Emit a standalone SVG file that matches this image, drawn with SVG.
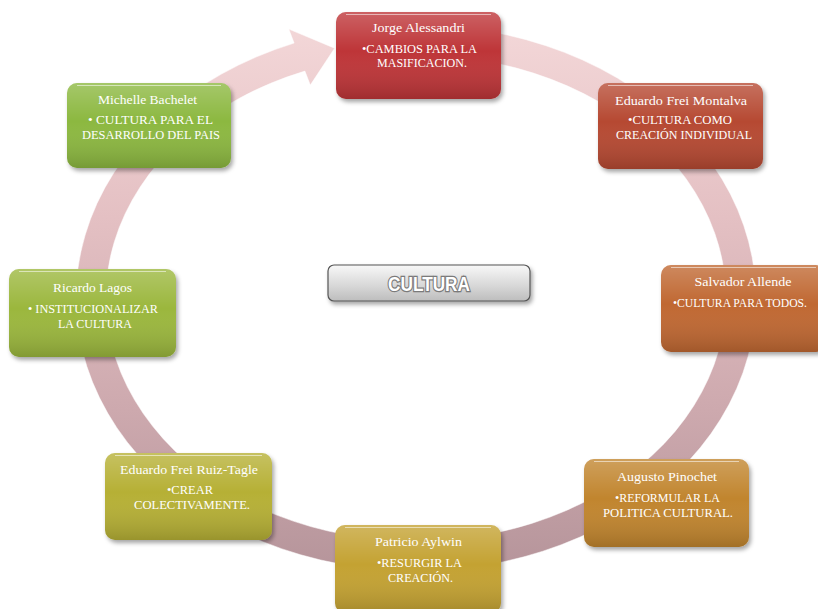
<svg xmlns="http://www.w3.org/2000/svg" width="818" height="609" viewBox="0 0 818 609">
<defs>
<style>
.t{font-family:"Liberation Serif","DejaVu Serif",serif;font-size:13px;fill:#fff;text-anchor:middle}
.shade{fill:url(#shade)}
.hl{fill:none;stroke:#fff;stroke-opacity:.55;stroke-width:1.2}
</style>
<linearGradient id="shade" x1="0" y1="0" x2="0" y2="1">
<stop offset="0" stop-color="#fff" stop-opacity=".22"/>
<stop offset=".45" stop-color="#fff" stop-opacity="0"/>
<stop offset="1" stop-color="#000" stop-opacity=".16"/>
</linearGradient>
<linearGradient id="ringg" gradientUnits="userSpaceOnUse" x1="0" y1="25" x2="0" y2="575">
<stop offset="0" stop-color="#F3D7D8"/>
<stop offset=".35" stop-color="#E4C0C3"/>
<stop offset=".7" stop-color="#CDA9AE"/>
<stop offset="1" stop-color="#B5949A"/>
</linearGradient>
<linearGradient id="cult" x1="0" y1="0" x2="0" y2="1">
<stop offset="0" stop-color="#F8F8F8"/>
<stop offset=".6" stop-color="#D6D6D6"/>
<stop offset="1" stop-color="#BDBDBD"/>
</linearGradient>
<filter id="sh" x="-10%" y="-10%" width="125%" height="130%">
<feDropShadow dx="2" dy="3" stdDeviation="2" flood-color="#000" flood-opacity=".35"/>
</filter>
</defs>
<rect width="818" height="609" fill="#fff"/>

<g id="connectors">
<path d="M445.6 26 A340 273 0 1 1 294.1 43.1 L288.8 29.1 L334.6 48.2 L310.3 85.1 L304.9 71.1 A310 243 0 1 0 443 55.9 Z" fill="url(#ringg)" stroke="#fff" stroke-opacity=".5" stroke-width="1"/>
</g>

<g id="center">
<rect x="328" y="265" width="202" height="36" rx="6" fill="url(#cult)" stroke="#555" stroke-width="1.2" filter="url(#sh)"/>
<text x="429" y="291" font-family="Liberation Sans, Arial, sans-serif" font-weight="bold" font-size="20" fill="#fff" stroke="#7a7a7a" stroke-width="2.5" paint-order="stroke" text-anchor="middle" textLength="82" lengthAdjust="spacingAndGlyphs">CULTURA</text>
</g>

<g id="n1">
<rect x="336" y="12" width="165" height="87" rx="10" fill="#BE3537" filter="url(#sh)"/>
<rect x="336" y="12" width="165" height="87" rx="10" class="shade"/>
<path d="M346 14.5 H491" class="hl"/>
<text class="t" x="418.5" y="32" textLength="93" lengthAdjust="spacingAndGlyphs">Jorge Alessandri</text>
<text class="t" x="419.5" y="53" textLength="115" lengthAdjust="spacingAndGlyphs">•CAMBIOS PARA LA</text>
<text class="t" x="422" y="67" textLength="90" lengthAdjust="spacingAndGlyphs">MASIFICACION.</text>
</g>

<g id="n2">
<rect x="598" y="83" width="165" height="86" rx="10" fill="#B64A33" filter="url(#sh)"/>
<rect x="598" y="83" width="165" height="86" rx="10" class="shade"/>
<path d="M608 85.5 H753" class="hl"/>
<text class="t" x="681" y="105" textLength="132" lengthAdjust="spacingAndGlyphs">Eduardo Frei Montalva</text>
<text class="t" x="680" y="124" textLength="104" lengthAdjust="spacingAndGlyphs">•CULTURA COMO</text>
<text class="t" x="684" y="139" textLength="136" lengthAdjust="spacingAndGlyphs">CREACIÓN INDIVIDUAL</text>
</g>

<g id="n3">
<rect x="661" y="265" width="165" height="87" rx="10" fill="#C06830" filter="url(#sh)"/>
<rect x="661" y="265" width="165" height="87" rx="10" class="shade"/>
<path d="M671 267.5 H816" class="hl"/>
<text class="t" x="743" y="286" textLength="97" lengthAdjust="spacingAndGlyphs">Salvador Allende</text>
<text class="t" x="740" y="307" textLength="134" lengthAdjust="spacingAndGlyphs">•CULTURA PARA TODOS.</text>
</g>

<g id="n4">
<rect x="584" y="459" width="165" height="88" rx="10" fill="#C1852F" filter="url(#sh)"/>
<rect x="584" y="459" width="165" height="88" rx="10" class="shade"/>
<path d="M594 461.5 H739" class="hl"/>
<text class="t" x="667" y="481" textLength="100" lengthAdjust="spacingAndGlyphs">Augusto Pinochet</text>
<text class="t" x="667.5" y="502" textLength="105" lengthAdjust="spacingAndGlyphs">•REFORMULAR LA</text>
<text class="t" x="668" y="517" textLength="130" lengthAdjust="spacingAndGlyphs">POLITICA CULTURAL.</text>
</g>

<g id="n5">
<rect x="335" y="525" width="166" height="88" rx="10" fill="#C4A232" filter="url(#sh)"/>
<rect x="335" y="525" width="166" height="88" rx="10" class="shade"/>
<path d="M345 527.5 H491" class="hl"/>
<text class="t" x="418.5" y="546" textLength="87" lengthAdjust="spacingAndGlyphs">Patricio Aylwin</text>
<text class="t" x="419.5" y="567" textLength="85" lengthAdjust="spacingAndGlyphs">•RESURGIR LA</text>
<text class="t" x="420.5" y="582" textLength="65" lengthAdjust="spacingAndGlyphs">CREACIÓN.</text>
</g>

<g id="n6">
<rect x="105" y="453" width="167" height="87" rx="10" fill="#B6B035" filter="url(#sh)"/>
<rect x="105" y="453" width="167" height="87" rx="10" class="shade"/>
<path d="M115 455.5 H262" class="hl"/>
<text class="t" x="189" y="474" textLength="138" lengthAdjust="spacingAndGlyphs">Eduardo Frei Ruiz-Tagle</text>
<text class="t" x="190" y="494" textLength="46" lengthAdjust="spacingAndGlyphs">•CREAR</text>
<text class="t" x="192" y="509" textLength="116" lengthAdjust="spacingAndGlyphs">COLECTIVAMENTE.</text>
</g>

<g id="n7">
<rect x="9" y="269" width="167" height="88" rx="10" fill="#9BB73D" filter="url(#sh)"/>
<rect x="9" y="269" width="167" height="88" rx="10" class="shade"/>
<path d="M19 271.5 H166" class="hl"/>
<text class="t" x="92.5" y="292" textLength="79" lengthAdjust="spacingAndGlyphs">Ricardo Lagos</text>
<text class="t" x="93" y="313" textLength="130" lengthAdjust="spacingAndGlyphs">• INSTITUCIONALIZAR</text>
<text class="t" x="95" y="328" textLength="74" lengthAdjust="spacingAndGlyphs">LA CULTURA</text>
</g>

<g id="n8">
<rect x="67" y="83" width="164" height="85" rx="10" fill="#8CB83F" filter="url(#sh)"/>
<rect x="67" y="83" width="164" height="85" rx="10" class="shade"/>
<path d="M77 85.5 H221" class="hl"/>
<text class="t" x="147.5" y="104" textLength="99" lengthAdjust="spacingAndGlyphs">Michelle Bachelet</text>
<text class="t" x="150.5" y="124" textLength="125" lengthAdjust="spacingAndGlyphs">• CULTURA PARA EL</text>
<text class="t" x="151" y="139" textLength="138" lengthAdjust="spacingAndGlyphs">DESARROLLO DEL PAIS</text>
</g>
</svg>
